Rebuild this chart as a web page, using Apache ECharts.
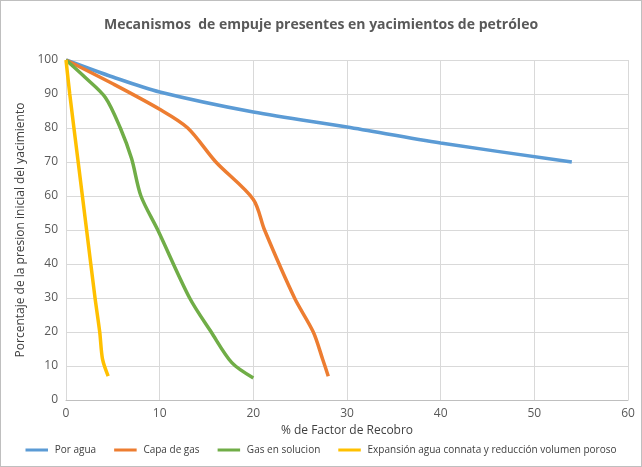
<!DOCTYPE html><html><head><meta charset="utf-8"><script src="https://cdn.jsdelivr.net/npm/echarts@6/dist/echarts.min.js"></script>
<style>body{margin:0}#c{width:640px;height:465px;border:1px solid #bfbfbf}</style></head><body><div id="c"></div><script>
const names=["Por agua","Capa de gas","Gas en solucion","Expansión agua connata y reducción volumen poroso"];
const porAgua=[[0,100],[5,95],[10,90.6],[20,84.7],[30,80.3],[40,75.6],[54,70]];
const capaGas=[[0,100],[5,93],[10,85.5],[13,80],[16,70],[20,59],[21.2,50],[24.4,30],[26.4,20],[27.4,12],[28,7]];
const gasSol=[[0,100],[2,95],[4.2,89],[5.8,80],[7,71],[8,60],[9.8,50],[13.2,30],[15.5,20],[17.7,11],[20,6.5]];
const expansion=[[0,100],[0.4,90],[1.3,70],[2.2,50],[3.1,30],[3.6,20],[3.9,12],[4.5,7]];
const colors=["#5B9BD5","#ED7D31","#70AD47","#FFC000"];
const data=[porAgua,capaGas,gasSol,expansion];
const f="'Open Sans',sans-serif";
echarts.init(document.getElementById('c')).setOption({
 animation:false,color:colors,
 title:{text:"Mecanismos  de empuje presentes en yacimientos de petróleo",left:'center',top:12,textStyle:{fontSize:14,fontWeight:'bold',color:'#595959',fontFamily:f}},
 grid:{left:65,right:13,top:59,bottom:66},
 legend:{bottom:6,itemGap:18,icon:'path://M0,0H30V4H0Z',itemWidth:26,itemHeight:3,textStyle:{fontSize:10,color:'#404040',fontFamily:f}},
 xAxis:{type:'value',min:0,max:60,interval:10,name:'% de Factor de Recobro',nameLocation:'middle',nameGap:22,nameTextStyle:{fontSize:12,color:'#404040',fontFamily:f},
  axisLine:{lineStyle:{color:'#bfbfbf'}},axisTick:{show:false},axisLabel:{color:'#595959',fontFamily:f,fontSize:12},splitLine:{lineStyle:{color:'#d9d9d9'}}},
 yAxis:{type:'value',min:0,max:100,interval:10,name:'Porcentaje de la presion inicial del yacimiento',nameLocation:'middle',nameGap:33,nameTextStyle:{fontSize:12,color:'#404040',fontFamily:f},
  axisLine:{show:false},axisTick:{show:false},axisLabel:{color:'#595959',fontFamily:f,fontSize:12},splitLine:{lineStyle:{color:'#d9d9d9'}}},
 series:names.map((n,i)=>({name:n,type:'line',data:data[i],smooth:0.3,showSymbol:false,lineStyle:{width:3.5}}))
});
</script></body></html>
